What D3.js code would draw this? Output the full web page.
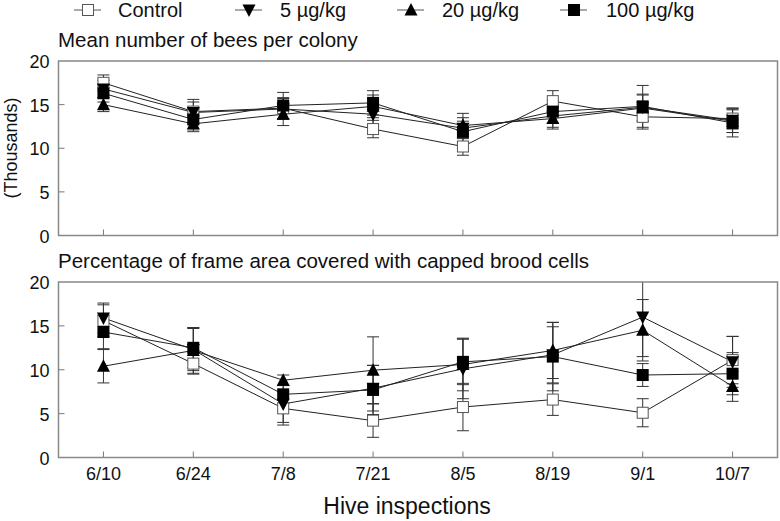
<!DOCTYPE html>
<html><head><meta charset="utf-8">
<script src="https://cdn.jsdelivr.net/npm/d3@7"></script>
<style>body{margin:0;background:#fff}svg{display:block;font-family:"Liberation Sans",Arial,sans-serif}</style>
</head><body><svg id="c" width="780" height="521"></svg>
<script>
const dates = ["6/10","6/24","7/8","7/21","8/5","8/19","9/1","10/7"];
const seriesNames = ["Control","5 µg/kg","20 µg/kg","100 µg/kg"];
const yTicks = [0,5,10,15,20];

// Panel 1: mean number of bees per colony (thousands)
const beesControl = [17.5,14.2,14.6,12.2,10.2,15.4,13.6,13.4];
const bees5       = [16.8,14.1,14.5,13.9,12.3,13.7,14.7,13.2];
const bees20      = [15.0,12.8,13.9,14.8,12.6,13.4,14.6,13.1];
const bees100     = [16.3,13.3,14.9,15.2,11.9,14.2,14.8,12.9];
const beesControlErr = [0.9,1.4,1.2,1.0,1.0,1.2,1.4,1.2];
const bees5Err       = [1.0,1.2,1.2,1.2,1.2,1.3,1.5,1.4];
const bees20Err      = [0.8,0.9,1.3,1.3,1.4,1.2,1.5,1.3];
const bees100Err     = [1.0,1.2,1.5,1.4,1.2,1.3,2.4,1.6];

// Panel 2: percentage of frame area covered with capped brood cells
const broodControl = [15.6,10.7,5.6,4.2,5.75,6.6,5.1,11.1];
const brood5       = [15.9,12.3,6.1,7.9,10.1,11.7,16.0,10.9];
const brood20      = [10.4,12.2,8.8,9.95,10.6,12.2,14.5,8.1];
const brood100     = [14.3,12.5,7.2,7.7,10.9,11.5,9.4,9.55];
const broodControlErr = [1.8,1.2,1.9,1.9,2.7,1.8,1.6,2.7];
const brood5Err       = [1.7,2.4,2.1,2.6,3.4,3.2,4.5,2.9];
const brood20Err      = [1.9,2.6,0.6,3.8,3.0,3.2,3.5,1.7];
const brood100Err     = [1.9,2.3,1.0,2.8,2.6,3.9,1.3,2.4];

const markers = ["squareOpen","triDown","triUp","square"];

const svg = d3.select("#c");
const x = d3.scaleLinear().domain([-0.5, 7.5]).range([58.5, 777.5]);

function symbol(g, type, cx, cy){
  if(type==="squareOpen"){
    g.append("rect").attr("x",cx-5.5).attr("y",cy-5.5).attr("width",11).attr("height",11)
     .attr("fill","#fff").attr("stroke","#555").attr("stroke-width",1);
  } else if(type==="square"){
    g.append("rect").attr("x",cx-6).attr("y",cy-6).attr("width",12).attr("height",12).attr("fill","#000");
  } else if(type==="triDown"){
    g.append("path").attr("d",`M${cx-6.5},${cy-5.5}L${cx+6.5},${cy-5.5}L${cx},${cy+7}Z`).attr("fill","#000");
  } else {
    g.append("path").attr("d",`M${cx-6.5},${cy+5.5}L${cx+6.5},${cy+5.5}L${cx},${cy-7}Z`).attr("fill","#000");
  }
}

function panel(top, bottom, title, vals, errs){
  const y = d3.scaleLinear().domain([0,20]).range([bottom, top]);
  const g = svg.append("g");
  g.append("text").attr("x",58).attr("y",top-14).attr("font-size",20.5).attr("fill","#111").text(title);
  g.selectAll(".yl").data(yTicks).join("text").attr("x",49.5).attr("y",d=>y(d)+7)
    .attr("text-anchor","end").attr("font-size",18).attr("fill","#111").text(d=>d);
  g.selectAll(".yt").data(yTicks.slice(1,4)).join("line").attr("x1",x.range()[0]).attr("x2",x.range()[0]+6)
    .attr("y1",d=>y(d)).attr("y2",d=>y(d)).attr("stroke","#777");
  g.selectAll(".xt").data(dates).join("line").attr("x1",(d,i)=>x(i)).attr("x2",(d,i)=>x(i))
    .attr("y1",bottom).attr("y2",bottom-6).attr("stroke","#777");
  const clip = "clip"+Math.round(top);
  g.append("clipPath").attr("id",clip).append("rect").attr("x",x.range()[0]).attr("y",top)
    .attr("width",x.range()[1]-x.range()[0]).attr("height",bottom-top);
  const pg = g.append("g").attr("clip-path",`url(#${clip})`);
  vals.forEach((s,k)=>{
    s.forEach((v,i)=>{
      const e = errs[k][i], cx = x(i);
      pg.append("line").attr("x1",cx).attr("x2",cx).attr("y1",y(v+e)).attr("y2",y(v-e)).attr("stroke","#333").attr("stroke-width",1);
      [v+e, v-e].forEach(w=>pg.append("line").attr("x1",cx-6).attr("x2",cx+6).attr("y1",y(w)).attr("y2",y(w)).attr("stroke","#333").attr("stroke-width",1));
    });
  });
  const line = d3.line().x((d,i)=>x(i)).y(d=>y(d));
  vals.forEach(s=>pg.append("path").attr("d",line(s)).attr("fill","none").attr("stroke","#222").attr("stroke-width",1));
  vals.forEach((s,k)=>s.forEach((v,i)=>symbol(pg, markers[k], x(i), y(v))));
  g.append("rect").attr("x",x.range()[0]).attr("y",top).attr("width",x.range()[1]-x.range()[0])
    .attr("height",bottom-top).attr("fill","none").attr("stroke","#888").attr("stroke-width",1.5);
  return y;
}

panel(61, 235.5, "Mean number of bees per colony",
  [beesControl,bees5,bees20,bees100],[beesControlErr,bees5Err,bees20Err,bees100Err]);
panel(282, 457.5, "Percentage of frame area covered with capped brood cells",
  [broodControl,brood5,brood20,brood100],[broodControlErr,brood5Err,brood20Err,brood100Err]);

svg.selectAll(".xl").data(dates).join("text").attr("x",(d,i)=>x(i)).attr("y",480)
  .attr("text-anchor","middle").attr("font-size",18).attr("fill","#111").text(d=>d);
svg.append("text").attr("x",407).attr("y",514).attr("text-anchor","middle").attr("font-size",23).attr("fill","#111").text("Hive inspections");
svg.append("text").attr("transform","translate(16.5,148) rotate(-90)").attr("text-anchor","middle")
  .attr("font-size",18).attr("fill","#111").text("(Thousands)");

const legX = [74, 235, 397, 560];
const legTx = [118, 280, 442, 606];
seriesNames.forEach((n,k)=>{
  const g = svg.append("g");
  g.append("line").attr("x1",legX[k]).attr("x2",legX[k]+27).attr("y1",10).attr("y2",10).attr("stroke","#555");
  symbol(g, markers[k], legX[k]+14, 10);
  g.append("text").attr("x",legTx[k]).attr("y",17).attr("font-size",20).attr("fill","#111").text(n);
});
</script></body></html>
